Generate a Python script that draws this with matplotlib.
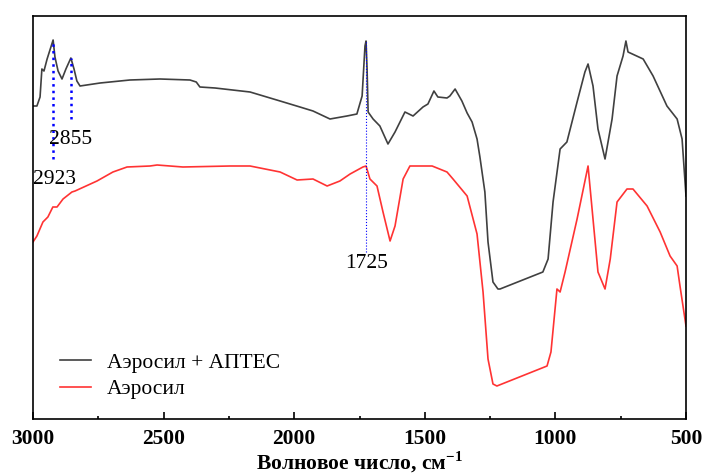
import matplotlib
matplotlib.use("Agg")
import matplotlib.pyplot as plt
import numpy as np

# IR spectra (arbitrary transmittance units)
wn_aptes = [3000, 2985, 2973, 2966, 2958, 2946, 2923, 2916, 2904, 2889, 2874, 2855,
            2843, 2832, 2820, 2743, 2629, 2514, 2399, 2375, 2361, 2303, 2169, 2054,
            1978, 1928, 1863, 1798, 1760, 1740, 1729, 1725, 1721, 1717, 1698, 1672,
            1641, 1614, 1576, 1545, 1507, 1488, 1465, 1450, 1415, 1404, 1384, 1358,
            1338, 1319, 1300, 1289, 1270, 1258, 1239, 1220, 1212, 1048, 1028, 1009,
            982, 956, 917, 887, 875, 856, 837, 810, 783, 764, 741, 730, 722, 664,
            626, 573, 534, 515, 500]
t_aptes = [313, 313, 322, 350, 348, 360, 379, 362, 348, 340, 350, 361,
           350, 338, 333, 336, 339, 340, 339, 337, 332, 331, 327, 318,
           312, 308, 300, 303, 305, 323, 373, 378, 350, 307, 300, 293,
           275, 287, 307, 303, 312, 315, 328, 322, 321, 323, 330, 318,
           306, 297, 280, 262, 227, 177, 137, 130, 130, 147, 160, 217,
           270, 277, 317, 347, 355, 333, 290, 260, 300, 343, 363, 378, 367, 360,
           343, 313, 300, 280, 223]

wn_aerosil = [3000, 2985, 2962, 2943, 2924, 2908, 2885, 2851, 2839, 2755, 2694, 2640,
              2552, 2525, 2426, 2246, 2169, 2054, 1989, 1928, 1874, 1825, 1786, 1737,
              1725, 1710, 1683, 1660, 1633, 1614, 1583, 1557, 1472, 1415, 1392, 1338,
              1300, 1277, 1258, 1239, 1224, 1032, 1017, 994, 982, 963, 917, 875, 856,
              837, 810, 790, 764, 726, 703, 649, 599, 561, 534, 523, 500]
t_aerosil = [177, 183, 197, 202, 212, 212, 220, 227, 228, 238, 247, 252,
             253, 254, 252, 253, 253, 247, 239, 240, 233, 238, 245, 252,
             253, 240, 233, 207, 178, 193, 240, 253, 253, 247, 240, 223,
             185, 127, 60, 35, 33, 53, 67, 130, 127, 147, 200, 253, 200,
             147, 130, 160, 217, 230, 230, 213, 187, 163, 153, 133, 93]

peaks = [2923, 2855, 1725]
peak_top = [379, 361, 378]
peak_bottom = [260, 300, 167]
label_x = [2916, 2858, 1721]
label_y = [240, 280, 156]

plt.rcParams['font.family'] = ['Liberation Serif', 'DejaVu Serif']
plt.rcParams['mathtext.fontset'] = 'custom'
plt.rcParams['mathtext.rm'] = 'Liberation Serif'
plt.rcParams['mathtext.bf'] = 'Liberation Serif:bold'

fig = plt.figure(figsize=(7.06, 4.76), dpi=100)
ax = fig.add_axes([33/706, 1-419/476, 653/706, 403/476])

ax.plot(wn_aptes, t_aptes, color='#404040', lw=1.2, label='Аэросил + АПТЕС')
ax.plot(wn_aerosil, t_aerosil, color='#ff3333', lw=1.2, label='Аэросил')

# marked bands
for i in range(len(peaks)):
    if peaks[i] == 1725:
        ax.plot([peaks[i], peaks[i]], [peak_bottom[i], peak_top[i]], ':', color='blue', lw=0.8)
    else:
        ax.plot([peaks[i], peaks[i]], [peak_bottom[i], peak_top[i]], ':', color='blue', lw=1.8)
    ax.text(label_x[i], label_y[i], str(peaks[i]), ha='center', va='center', fontsize=15.5)

ax.set_xlim(3000, 500)
ax.set_ylim(0, 403)
ax.set_xticks([3000, 2500, 2000, 1500, 1000, 500])
ax.set_xticks([2750, 2250, 1750, 1250, 750], minor=True)
ax.set_yticks([])
ax.tick_params(axis='x', which='major', direction='in', length=5, width=1.2, labelsize=15.5, pad=7)
ax.tick_params(axis='x', which='minor', direction='in', length=2.5, width=1.2)
for lab in ax.get_xticklabels():
    lab.set_fontweight('bold')
for s in ax.spines.values():
    s.set_linewidth(1.2)
ax.set_xlabel(r'Волновое число, см$^{\mathbf{-1}}$', fontsize=15.5, fontweight='bold')
ax.xaxis.set_label_coords(0.5, -0.075)

ax.legend(loc='upper left', bbox_to_anchor=(0.041, 0.165), frameon=False, fontsize=15.5,
          handlelength=1.44, handletextpad=0.75, labelspacing=0.3,
          borderpad=0, borderaxespad=0)

fig.savefig('out.png', dpi=100)
